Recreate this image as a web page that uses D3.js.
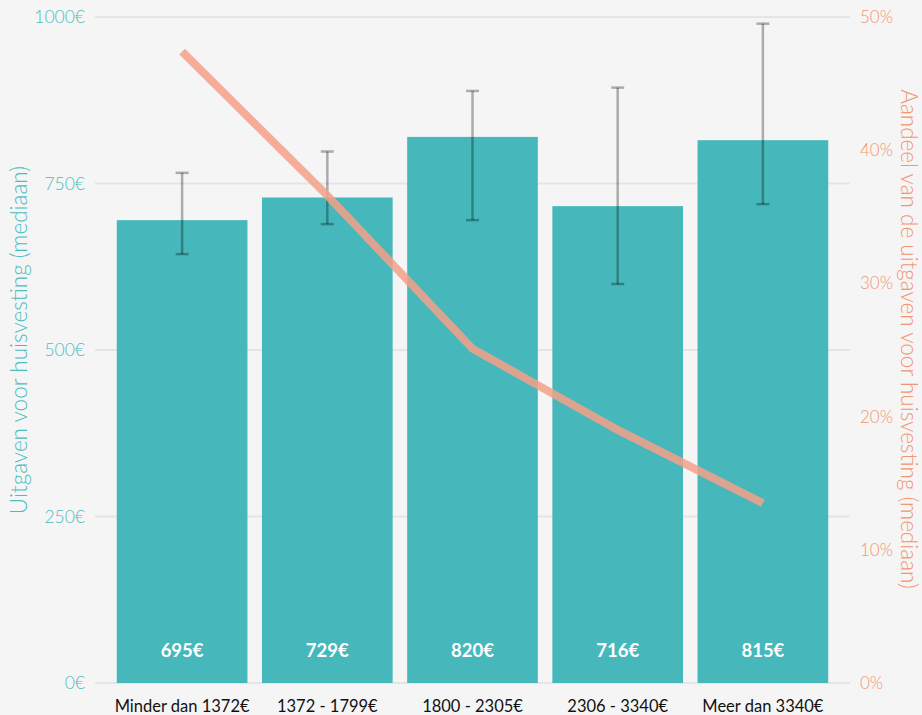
<!DOCTYPE html>
<html><head><meta charset="utf-8">
<script src="https://cdn.jsdelivr.net/npm/d3@7"></script>
<style>
html,body{margin:0;padding:0;background:#f5f5f5;}
svg{display:block;font-family:"Lato","Open Sans",sans-serif;}
</style></head>
<body>
<svg id="chart" width="922" height="715"></svg>
<script>
const categories = ["Minder dan 1372€", "1372 - 1799€", "1800 - 2305€", "2306 - 3340€", "Meer dan 3340€"];
const medianSpend = [695, 729, 820, 716, 815];
const errLow = [644, 689, 695, 599, 719];
const errHigh = [766, 798, 889, 894, 990];
const shareSpend = [47.4, 36.6, 25.1, 19.0, 13.5];
const leftTicks = [0, 250, 500, 750, 1000];
const rightTicks = [0, 10, 20, 30, 40, 50];
const leftTitle = "Uitgaven voor huisvesting (mediaan)";
const rightTitle = "Aandeel van de uitgaven voor huisvesting (mediaan)";

const svg = d3.select("#chart");
const W = 922, H = 715;
const m = {left: 95, right: 72, top: 17, bottom: 32};
const x = d3.scaleBand().domain(categories).range([m.left, W - m.right]).paddingInner(0.1).paddingOuter(0.15);
const y = d3.scaleLinear().domain([0, 1000]).range([H - m.bottom, m.top]);
const y2 = d3.scaleLinear().domain([0, 50]).range([H - m.bottom, m.top]);

const teal = "#46b8bb", salmon = "#f4a088", salmonText = "#f39474", tealText = "#4dbcbf";

// grid
svg.append("g").selectAll("line").data(leftTicks).join("line")
  .attr("x1", m.left).attr("x2", W - m.right)
  .attr("y1", d => y(d)).attr("y2", d => y(d))
  .attr("stroke", "#e5e5e5").attr("stroke-width", 2);

// bars
svg.append("g").selectAll("rect").data(categories).join("rect")
  .attr("x", d => x(d)).attr("width", x.bandwidth())
  .attr("y", (d, i) => y(medianSpend[i]))
  .attr("height", (d, i) => y(0) - y(medianSpend[i]))
  .attr("fill", teal);

// error bars
const eg = svg.append("g").attr("stroke", "rgba(0,0,0,0.3)").attr("stroke-width", 2.5);
categories.forEach((c, i) => {
  const cx = x(c) + x.bandwidth() / 2;
  eg.append("line").attr("x1", cx).attr("x2", cx).attr("y1", y(errLow[i])).attr("y2", y(errHigh[i]));
  eg.append("line").attr("x1", cx - 6.5).attr("x2", cx + 6.5).attr("y1", y(errLow[i])).attr("y2", y(errLow[i]));
  eg.append("line").attr("x1", cx - 6.5).attr("x2", cx + 6.5).attr("y1", y(errHigh[i])).attr("y2", y(errHigh[i]));
});

// value labels
svg.append("g").selectAll("text").data(categories).join("text")
  .attr("x", d => x(d) + x.bandwidth() / 2).attr("y", 657)
  .attr("text-anchor", "middle").attr("fill", "#fff")
  .attr("font-size", 18.5).attr("font-weight", 700)
  .text((d, i) => medianSpend[i] + "€");

// line
const line = d3.line().x((d, i) => x(categories[i]) + x.bandwidth() / 2).y(d => y2(d));
svg.append("path").datum(shareSpend).attr("d", line)
  .attr("fill", "none").attr("stroke", salmon).attr("stroke-width", 8)
  .attr("stroke-opacity", 0.85);

// left axis
const la = svg.append("g").attr("transform", `translate(${m.left},0)`)
  .call(d3.axisLeft(y).tickValues(leftTicks).tickFormat(d => d + "€").tickSize(0).tickPadding(10));
la.select(".domain").remove();
la.selectAll("text").attr("fill", tealText).attr("font-size", 17.5).attr("font-family", "Lato, sans-serif").attr("font-weight", 300);

// right axis
const ra = svg.append("g").attr("transform", `translate(${W - m.right},0)`)
  .call(d3.axisRight(y2).tickValues(rightTicks).tickFormat(d => d + "%").tickSize(0).tickPadding(10));
ra.select(".domain").remove();
ra.selectAll("text").attr("fill", salmonText).attr("font-size", 17).attr("font-family", "Lato, sans-serif").attr("font-weight", 300);

// x axis
const xa = svg.append("g").attr("transform", `translate(0,${H - m.bottom})`)
  .call(d3.axisBottom(x).tickSize(0).tickPadding(17));
xa.select(".domain").remove();
xa.selectAll("text").attr("fill", "#111").attr("font-size", 16.5).attr("font-family", "Lato, sans-serif");

// axis titles
svg.append("text").attr("transform", `translate(27,340) rotate(-90)`)
  .attr("text-anchor", "middle").attr("fill", tealText).attr("font-size", 22.5).attr("font-weight", 300)
  .text(leftTitle);
svg.append("text").attr("transform", `translate(901,339) rotate(90)`)
  .attr("text-anchor", "middle").attr("fill", salmonText).attr("font-size", 22.5).attr("font-weight", 300)
  .text(rightTitle);
</script>
</body></html>
